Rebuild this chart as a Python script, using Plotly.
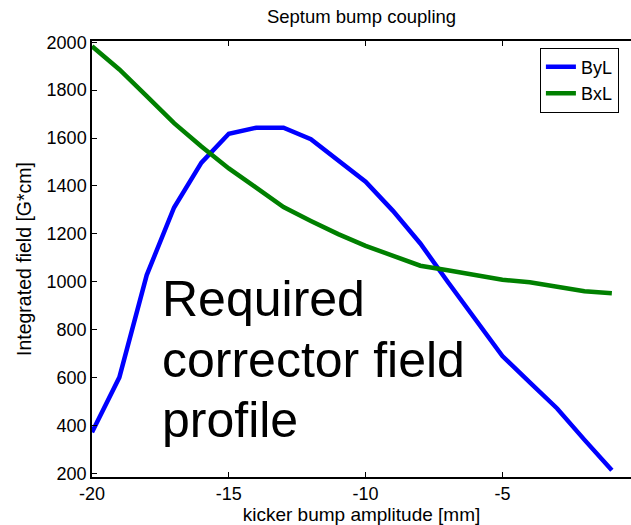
import plotly.graph_objects as go

x_mm = [-20, -19, -18, -17, -16, -15, -14, -13, -12, -11, -10, -9, -8, -7, -6, -5, -4, -3, -2, -1]
byl = [372, 601, 1028, 1310, 1497, 1618, 1643, 1643, 1595, 1507, 1418, 1296, 1160, 1000, 845, 690, 580, 471, 340, 213]
bxl = [1983, 1886, 1775, 1662, 1565, 1473, 1393, 1312, 1254, 1199, 1150, 1108, 1067, 1048, 1030, 1008, 998, 977, 960, 952]

x_ticks = [-20, -15, -10, -5]
x_ticktext = ["-20", "-15", "-10", "-5"]
y_ticks = [200, 400, 600, 800, 1000, 1200, 1400, 1600, 1800, 2000]
y_ticktext = [str(v) for v in y_ticks]

note_lines = ["Required", "corrector field", "profile"]
note_y = [926, 675, 424]

FONT = "Liberation Sans, Arial, Helvetica, sans-serif"

fig = go.Figure()
fig.add_trace(go.Scatter(x=x_mm, y=byl, mode="lines", name="ByL",
                         line=dict(color="#0000FF", width=4.5)))
fig.add_trace(go.Scatter(x=x_mm, y=bxl, mode="lines", name="BxL",
                         line=dict(color="#008000", width=4.5)))

for txt, yv in zip(note_lines, note_y):
    fig.add_annotation(x=-17.5, y=yv, xref="x", yref="y", text=txt,
                       showarrow=False, xanchor="left", yanchor="middle", align="left",
                       font=dict(family=FONT, size=50, color="black"))

fig.update_layout(
    width=631, height=525,
    margin=dict(l=92, r=0, t=41, b=48),
    paper_bgcolor="white", plot_bgcolor="white",
    font=dict(family=FONT, size=18, color="black"),
    title=dict(text="Septum bump coupling", x=0.5, xref="paper", y=0.968, yanchor="middle",
               font=dict(family=FONT, size=18.5, color="black")),
    showlegend=True,
    legend=dict(x=0.831, y=0.985, xanchor="left", yanchor="top",
                bordercolor="black", borderwidth=1, bgcolor="white",
                font=dict(family=FONT, size=18, color="black"),
                tracegroupgap=0, itemwidth=30, entrywidth=110),
)
fig.update_xaxes(range=[-20, -0.3], tickvals=x_ticks, ticktext=x_ticktext,
                 ticks="inside", ticklen=5, tickcolor="black",
                 showline=True, linecolor="black", linewidth=1.5, mirror="ticks",
                 showgrid=False, zeroline=False,
                 tickfont=dict(family=FONT, size=18, color="black"),
                 title=dict(text="kicker bump amplitude [mm]", standoff=1,
                            font=dict(family=FONT, size=19, color="black")))
fig.update_yaxes(range=[185, 2005], tickvals=y_ticks, ticktext=y_ticktext,
                 ticks="inside", ticklen=5, tickcolor="black",
                 showline=True, linecolor="black", linewidth=1.5, mirror=False,
                 showgrid=False, zeroline=False,
                 tickfont=dict(family=FONT, size=18, color="black"),
                 title=dict(text="Integrated field [G*cm]", standoff=10,
                            font=dict(family=FONT, size=19.5, color="black")))

fig.write_html("out.html")
